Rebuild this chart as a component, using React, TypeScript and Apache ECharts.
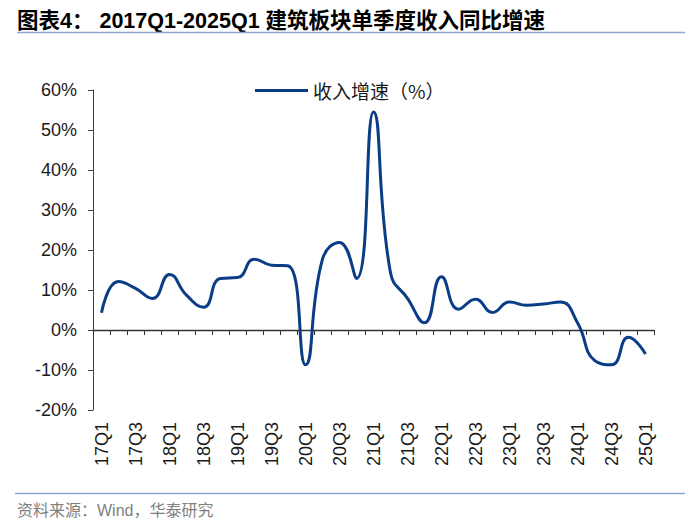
import React, { useEffect, useRef } from "react";
import * as echarts from "echarts";

const categories: string[] = [
  "17Q1", "17Q2", "17Q3", "17Q4",
  "18Q1", "18Q2", "18Q3", "18Q4",
  "19Q1", "19Q2", "19Q3", "19Q4",
  "20Q1", "20Q2", "20Q3", "20Q4",
  "21Q1", "21Q2", "21Q3", "21Q4",
  "22Q1", "22Q2", "22Q3", "22Q4",
  "23Q1", "23Q2", "23Q3", "23Q4",
  "24Q1", "24Q2", "24Q3", "24Q4",
  "25Q1",
];

const revenueGrowth: number[] = [
  4.3, 12.1, 10.4, 7.9,
  13.9, 8.7, 5.7, 12.9,
  13.1, 17.7, 16.2, 16.0,
  -8.7, 17.7, 21.9, 12.9,
  54.5, 14.3, 7.9, 1.8,
  13.3, 5.2, 7.7, 4.4,
  7.0, 6.2, 6.5, 7.0,
  1.8, -7.6, -8.7, -1.8,
  -6.0,
];

const seriesName = "收入增速（%）";
const titleText = "图表4： 2017Q1-2025Q1 建筑板块单季度收入同比增速";
const sourceText = "资料来源：Wind，华泰研究";

const LATIN = "'Liberation Sans', Arial, 'Noto Sans CJK SC', sans-serif";

export default function App() {
  const ref = useRef<HTMLDivElement>(null);

  useEffect(() => {
    if (!ref.current) return;
    const chart = echarts.init(ref.current, undefined, { renderer: "svg" });
    chart.setOption({
      animation: false,
      backgroundColor: "#ffffff",
      grid: { left: 93, right: 46, top: 90, bottom: 119, containLabel: false },
      legend: {
        data: [seriesName],
        left: 255,
        top: 81,
        padding: 0,
        icon: "rect",
        itemWidth: 53,
        itemHeight: 3,
        itemGap: 5,
        textStyle: {
          fontFamily: "'Noto Sans CJK SC', sans-serif",
          fontSize: 19,
          color: "#1a1a1a",
        },
      },
      xAxis: [
        {
          type: "category",
          data: categories,
          position: "bottom",
          boundaryGap: true,
          axisLine: { show: false, onZero: false },
          axisTick: { show: false },
          splitLine: { show: false },
          axisLabel: {
            interval: 1,
            rotate: 90,
            margin: 12,
            fontFamily: LATIN,
            fontSize: 18,
            color: "#1a1a1a",
          },
        },
        {
          type: "category",
          data: categories,
          position: "top",
          boundaryGap: true,
          axisLine: { show: true, onZero: true, lineStyle: { color: "#333333", width: 1.3 } },
          axisTick: { show: true, inside: true, interval: 0, length: 5, lineStyle: { color: "#333333", width: 1 } },
          axisLabel: { show: false },
          splitLine: { show: false },
        },
      ],
      yAxis: {
        type: "value",
        min: -20,
        max: 60,
        interval: 10,
        axisLine: { show: true, onZero: false, lineStyle: { color: "#404040", width: 1 } },
        axisTick: { show: true, length: 5, lineStyle: { color: "#404040" } },
        splitLine: { show: false },
        axisLabel: {
          formatter: "{value}%",
          margin: 16,
          fontFamily: LATIN,
          fontSize: 18,
          color: "#1a1a1a",
        },
      },
      series: [
        {
          name: seriesName,
          type: "line",
          xAxisIndex: 0,
          data: revenueGrowth,
          smooth: 0.5,
          symbol: "none",
          lineStyle: { color: "#0b3d86", width: 3 },
          itemStyle: { color: "#0b3d86" },
        },
      ],
      graphic: [
        {
          type: "text",
          left: 17,
          top: 10,
          style: {
            text: titleText,
            font: `bold 21.5px ${LATIN}`,
            fill: "#000000",
          },
        },
        {
          type: "line",
          shape: { x1: 17, y1: 32.5, x2: 685, y2: 32.5 },
          style: { stroke: "#8aa6d0", lineWidth: 1.5 },
        },
        {
          type: "line",
          shape: { x1: 15, y1: 493.5, x2: 685, y2: 493.5 },
          style: { stroke: "#8aa6d0", lineWidth: 1.5 },
        },
        {
          type: "text",
          left: 17,
          top: 502,
          style: {
            text: sourceText,
            font: `16px ${LATIN}`,
            fill: "#808080",
          },
        },
      ],
    });
    return () => chart.dispose();
  }, []);

  return (
    <div
      ref={ref}
      style={{ position: "fixed", left: 0, top: 0, width: 700, height: 529 }}
    />
  );
}
